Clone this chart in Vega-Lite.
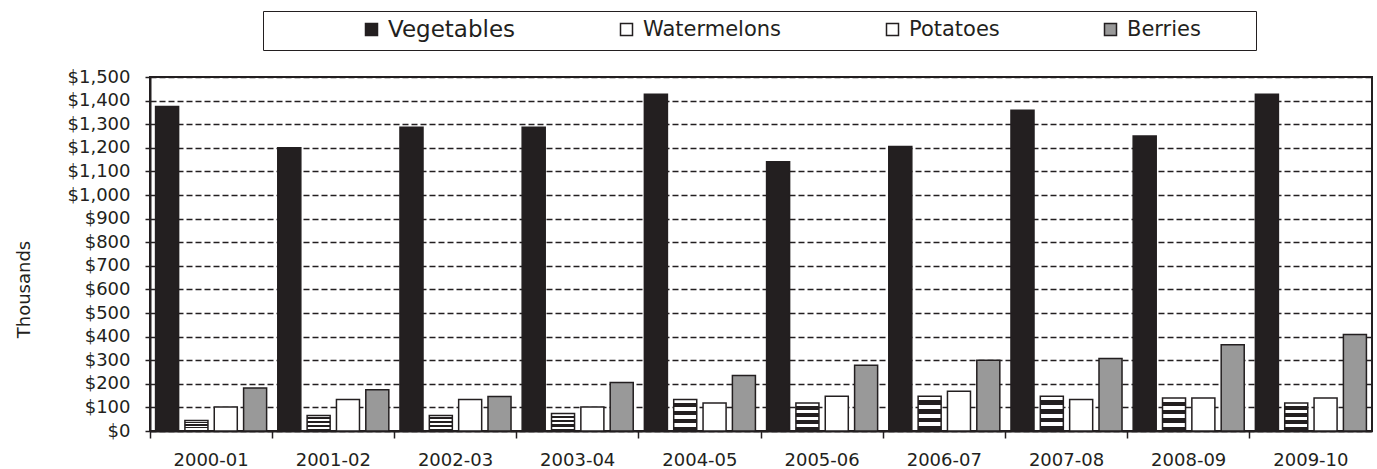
{
  "$schema": "https://vega.github.io/schema/vega-lite/v6.json",
  "width": 1222,
  "height": 354,
  "autosize": {"type": "none"},
  "padding": {"left": 150, "top": 77, "right": 5, "bottom": 38},
  "background": "white",
  "config": {
    "font": "DejaVu Sans",
    "view": {"stroke": "#231f20", "strokeWidth": 2},
    "axis": {"labelColor": "#231f20", "titleColor": "#231f20", "domainColor": "#231f20", "tickColor": "#231f20"}
  },
  "data": {
    "values": [
      {"period": "2000-01", "series": "Vegetables", "value": 1375},
      {"period": "2000-01", "series": "Watermelons", "value": 44},
      {"period": "2000-01", "series": "Potatoes", "value": 102},
      {"period": "2000-01", "series": "Berries", "value": 182},
      {"period": "2001-02", "series": "Vegetables", "value": 1200},
      {"period": "2001-02", "series": "Watermelons", "value": 66},
      {"period": "2001-02", "series": "Potatoes", "value": 133},
      {"period": "2001-02", "series": "Berries", "value": 175},
      {"period": "2002-03", "series": "Vegetables", "value": 1287},
      {"period": "2002-03", "series": "Watermelons", "value": 66},
      {"period": "2002-03", "series": "Potatoes", "value": 133},
      {"period": "2002-03", "series": "Berries", "value": 146},
      {"period": "2003-04", "series": "Vegetables", "value": 1287},
      {"period": "2003-04", "series": "Watermelons", "value": 74},
      {"period": "2003-04", "series": "Potatoes", "value": 102},
      {"period": "2003-04", "series": "Berries", "value": 205},
      {"period": "2004-05", "series": "Vegetables", "value": 1427},
      {"period": "2004-05", "series": "Watermelons", "value": 133},
      {"period": "2004-05", "series": "Potatoes", "value": 119},
      {"period": "2004-05", "series": "Berries", "value": 235},
      {"period": "2005-06", "series": "Vegetables", "value": 1141},
      {"period": "2005-06", "series": "Watermelons", "value": 119},
      {"period": "2005-06", "series": "Potatoes", "value": 147},
      {"period": "2005-06", "series": "Berries", "value": 279},
      {"period": "2006-07", "series": "Vegetables", "value": 1206},
      {"period": "2006-07", "series": "Watermelons", "value": 147},
      {"period": "2006-07", "series": "Potatoes", "value": 168},
      {"period": "2006-07", "series": "Berries", "value": 300},
      {"period": "2007-08", "series": "Vegetables", "value": 1359},
      {"period": "2007-08", "series": "Watermelons", "value": 147},
      {"period": "2007-08", "series": "Potatoes", "value": 133},
      {"period": "2007-08", "series": "Berries", "value": 307},
      {"period": "2008-09", "series": "Vegetables", "value": 1250},
      {"period": "2008-09", "series": "Watermelons", "value": 140},
      {"period": "2008-09", "series": "Potatoes", "value": 140},
      {"period": "2008-09", "series": "Berries", "value": 365},
      {"period": "2009-10", "series": "Vegetables", "value": 1427},
      {"period": "2009-10", "series": "Watermelons", "value": 119},
      {"period": "2009-10", "series": "Potatoes", "value": 140},
      {"period": "2009-10", "series": "Berries", "value": 409}
    ]
  },
  "mark": {"type": "bar", "stroke": "#231f20", "strokeWidth": 1.5},
  "encoding": {
    "x": {
      "field": "period",
      "type": "nominal",
      "scale": {"paddingInner": 0, "paddingOuter": 0},
      "axis": {
        "title": null,
        "labelAngle": 0,
        "bandPosition": 0,
        "labelFontSize": 18,
        "labelPadding": 13,
        "tickSize": 7,
        "tickWidth": 1.5,
        "domainWidth": 2
      }
    },
    "xOffset": {
      "field": "series",
      "type": "nominal",
      "sort": ["Vegetables", "Watermelons", "Potatoes", "Berries"],
      "scale": {"paddingInner": 0.215, "paddingOuter": 0.19}
    },
    "y": {
      "field": "value",
      "type": "quantitative",
      "scale": {"domain": [0, 1500], "nice": false},
      "axis": {
        "title": "Thousands",
        "titleFontSize": 18,
        "titleFontWeight": "normal",
        "titleAngle": -90,
        "titleX": -126,
        "titleY": 212,
        "titleAlign": "center",
        "titleBaseline": "middle",
        "values": [0, 100, 200, 300, 400, 500, 600, 700, 800, 900, 1000, 1100, 1200, 1300, 1400, 1500],
        "format": "$,.0f",
        "labelFontSize": 18,
        "labelPadding": 15,
        "tickSize": 5,
        "tickWidth": 1.5,
        "domainWidth": 2,
        "grid": true,
        "gridColor": "#231f20",
        "gridWidth": 1.5,
        "gridDash": [6, 3]
      }
    },
    "fill": {
      "condition": {
        "test": "datum.series === 'Watermelons'",
        "value": {
          "gradient": "linear",
          "x1": 0, "y1": 0, "x2": 0, "y2": 1,
          "stops": [
            {"offset": 0, "color": "#ffffff"},
            {"offset": 0.12, "color": "#ffffff"},
            {"offset": 0.12, "color": "#231f20"},
            {"offset": 0.25, "color": "#231f20"},
            {"offset": 0.25, "color": "#ffffff"},
            {"offset": 0.37, "color": "#ffffff"},
            {"offset": 0.37, "color": "#231f20"},
            {"offset": 0.5, "color": "#231f20"},
            {"offset": 0.5, "color": "#ffffff"},
            {"offset": 0.62, "color": "#ffffff"},
            {"offset": 0.62, "color": "#231f20"},
            {"offset": 0.75, "color": "#231f20"},
            {"offset": 0.75, "color": "#ffffff"},
            {"offset": 0.87, "color": "#ffffff"},
            {"offset": 0.87, "color": "#231f20"},
            {"offset": 1, "color": "#231f20"}
          ]
        }
      },
      "field": "series",
      "type": "nominal",
      "sort": ["Vegetables", "Watermelons", "Potatoes", "Berries"],
      "scale": {
        "domain": ["Vegetables", "Watermelons", "Potatoes", "Berries"],
        "range": ["#231f20", "#ffffff", "#ffffff", "#999999"]
      },
      "legend": {
        "orient": "none",
        "legendX": 113,
        "legendY": -66,
        "direction": "horizontal",
        "columns": 4,
        "gridAlign": "none",
        "columnPadding": 100,
        "padding": 8,
        "strokeColor": "#231f20",
        "title": "\u00a0",
        "titleFontSize": 10,
        "titleOrient": "left",
        "titlePadding": 90,
        "symbolType": "square",
        "symbolSize": 144,
        "symbolStrokeColor": "#231f20",
        "symbolStrokeWidth": 1.5,
        "symbolOpacity": 1,
        "labelFontSize": {"expr": "datum.value === 'Vegetables' ? 23 : 21"},
        "labelExpr": "datum.label === 'Berries' ? datum.label + '\u2800\u2800\u2800' : datum.label",
        "labelColor": "#231f20",
        "labelOffset": 6
      }
    }
  }
}
